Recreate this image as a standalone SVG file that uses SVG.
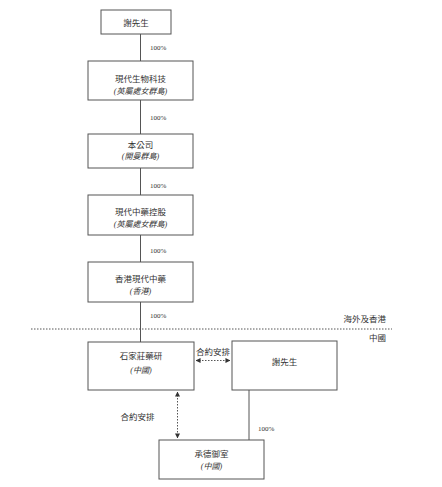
<svg xmlns="http://www.w3.org/2000/svg" width="442" height="487" viewBox="0 0 442 487">
<style>
.box{fill:#fff;stroke:#555;stroke-width:1}
.t{font-family:"Liberation Serif","Noto Sans CJK TC",serif;font-size:8.5px;fill:#333;text-anchor:middle}
.s{font-family:"Liberation Serif","Noto Sans CJK TC",serif;font-size:8px;font-style:italic;fill:#333;text-anchor:middle}
.p{font-family:"Liberation Serif","Noto Sans CJK TC",serif;font-size:7px;fill:#333}
.l{fill:none;stroke:#555;stroke-width:1}
.d{fill:none;stroke:#555;stroke-width:1;stroke-dasharray:1.5,1.5}
</style>
<defs>
<marker id="ah" viewBox="0 0 6 6" refX="5.5" refY="3" markerWidth="5" markerHeight="5" orient="auto-start-reverse" markerUnits="userSpaceOnUse">
<path d="M0,0 L6,3 L0,6 Z" fill="#333"/>
</marker>
</defs>
<g id="connectors">
<line class="l" x1="140.5" y1="34" x2="140.5" y2="61"/>
<line class="l" x1="140.5" y1="100" x2="140.5" y2="134"/>
<line class="l" x1="140.5" y1="168" x2="140.5" y2="195"/>
<line class="l" x1="140.5" y1="235" x2="140.5" y2="262"/>
<line class="l" x1="140.5" y1="302" x2="140.5" y2="342"/>
<line class="d" x1="196" y1="360.5" x2="230" y2="360.5" marker-start="url(#ah)" marker-end="url(#ah)"/>
<line class="d" x1="177.5" y1="392" x2="177.5" y2="438" marker-start="url(#ah)" marker-end="url(#ah)"/>
<line class="l" x1="249" y1="390" x2="249" y2="440"/>
<text class="p" x="150" y="49.5">100%</text>
<text class="p" x="150" y="119.5">100%</text>
<text class="p" x="150" y="187.5">100%</text>
<text class="p" x="150" y="252.5">100%</text>
<text class="p" x="150" y="317.5">100%</text>
<text class="p" x="258" y="430.5">100%</text>
<text class="t" x="213" y="355">合約安排</text>
<text class="t" x="137.5" y="420">合約安排</text>
</g>
<g id="border">
<line x1="31" y1="329" x2="392" y2="329" stroke="#555" stroke-width="1" stroke-dasharray="1.5,1.5"/>
<text class="t" x="386" y="322" style="text-anchor:end">海外及香港</text>
<text class="t" x="386" y="341" style="text-anchor:end">中國</text>
</g>
<g id="n1">
<rect class="box" x="101" y="10" width="70" height="24"/>
<text class="t" x="136" y="25.5">謝先生</text>
</g>
<g id="n2">
<rect class="box" x="88" y="61" width="105" height="39"/>
<text class="t" x="140.5" y="82">現代生物科技</text>
<text class="s" x="140.5" y="93.5">(英屬處女群島)</text>
</g>
<g id="n3">
<rect class="box" x="88" y="134" width="105" height="34"/>
<text class="t" x="140.5" y="148">本公司</text>
<text class="s" x="140.5" y="159">(開曼群島)</text>
</g>
<g id="n4">
<rect class="box" x="88" y="195" width="105" height="40"/>
<text class="t" x="140.5" y="215">現代中藥控股</text>
<text class="s" x="140.5" y="226.5">(英屬處女群島)</text>
</g>
<g id="n5">
<rect class="box" x="88" y="262" width="105" height="40"/>
<text class="t" x="140.5" y="282">香港現代中藥</text>
<text class="s" x="140.5" y="294">(香港)</text>
</g>
<g id="n6">
<rect class="box" x="88" y="342" width="106" height="48"/>
<text class="t" x="141" y="359">石家莊藥研</text>
<text class="s" x="141" y="373">(中國)</text>
</g>
<g id="n7">
<rect class="box" x="232" y="341" width="105" height="49"/>
<text class="t" x="284.5" y="365">謝先生</text>
</g>
<g id="n8">
<rect class="box" x="159" y="440" width="105" height="39"/>
<text class="t" x="211.5" y="457">承德御室</text>
<text class="s" x="211.5" y="469">(中國)</text>
</g>
</svg>
